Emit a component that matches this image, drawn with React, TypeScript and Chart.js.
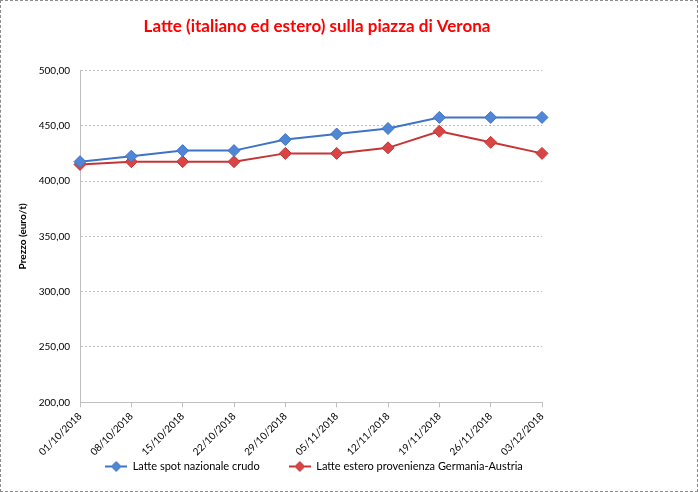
import React, { useEffect, useRef } from "react";
import { Chart, registerables } from "chart.js";

Chart.register(...registerables);

const categories = [
  "01/10/2018", "08/10/2018", "15/10/2018", "22/10/2018", "29/10/2018",
  "05/11/2018", "12/11/2018", "19/11/2018", "26/11/2018", "03/12/2018",
];
const spotNazionale = [417.5, 422.5, 427.5, 427.5, 437.5, 442.5, 447.5, 457.5, 457.5, 457.5];
const esteroGermaniaAustria = [415, 417.5, 417.5, 417.5, 425, 425, 430, 445, 435, 425];
const seriesNames = ["Latte spot nazionale crudo", "Latte estero provenienza Germania-Austria"];
const titleText = "Latte (italiano ed estero) sulla piazza di Verona";
const yTitle = "Prezzo (euro/t)";

const FONT = "Lato, 'Liberation Sans', sans-serif";

function makeLegendIcon(fill: string, stroke: string): HTMLCanvasElement {
  const c = document.createElement("canvas");
  c.width = 22;
  c.height = 12;
  const ctx = c.getContext("2d")!;
  ctx.strokeStyle = stroke;
  ctx.lineWidth = 2;
  ctx.beginPath();
  ctx.moveTo(0, 6);
  ctx.lineTo(22, 6);
  ctx.stroke();
  ctx.beginPath();
  ctx.moveTo(11, 1);
  ctx.lineTo(16, 6);
  ctx.lineTo(11, 11);
  ctx.lineTo(6, 6);
  ctx.closePath();
  ctx.fillStyle = fill;
  ctx.fill();
  ctx.lineWidth = 1;
  ctx.stroke();
  return c;
}

const legendShift = {
  id: "legendShift",
  afterLayout(chart: any) {
    const lg = chart.legend;
    if (lg) {
      lg.top -= 29;
      lg.bottom -= 29;
      lg.left -= 3;
      lg.right -= 3;
    }
  },
};

export default function App() {
  const ref = useRef<HTMLCanvasElement | null>(null);

  useEffect(() => {
    document.body.style.margin = "0";
    if (!ref.current) return;
    const blueFill = "#4f86d6";
    const blueLine = "#3f73c4";
    const redFill = "#d94444";
    const redLine = "#c53535";
    const icons = [makeLegendIcon(blueFill, blueLine), makeLegendIcon(redFill, redLine)];

    const chart = new Chart(ref.current, {
      type: "line",
      data: {
        labels: categories,
        datasets: [
          {
            label: seriesNames[0],
            data: spotNazionale,
            borderColor: blueLine,
            backgroundColor: blueFill,
            pointBackgroundColor: blueFill,
            pointBorderColor: blueLine,
            pointStyle: "rectRot",
            pointRadius: 6,
            pointBorderWidth: 1,
            borderWidth: 2,
            tension: 0,
          },
          {
            label: seriesNames[1],
            data: esteroGermaniaAustria,
            borderColor: redLine,
            backgroundColor: redFill,
            pointBackgroundColor: redFill,
            pointBorderColor: redLine,
            pointStyle: "rectRot",
            pointRadius: 6,
            pointBorderWidth: 1,
            borderWidth: 2,
            tension: 0,
          },
        ],
      },
      plugins: [legendShift],
      options: {
        animation: false,
        responsive: false,
        layout: { padding: { left: 0, right: 64, top: 10, bottom: -20 } },
        plugins: {
          title: {
            display: true,
            text: titleText,
            color: "#ff0000",
            font: { family: FONT, size: 17, weight: "bold" },
            padding: { top: 5, bottom: 34 },
          },
          legend: {
            position: "bottom",
            labels: {
              usePointStyle: true,
              pointStyleWidth: 22,
              color: "#000",
              font: { family: FONT, size: 11 },
              padding: 29,
              generateLabels: (ch: any) => {
                const items = Chart.defaults.plugins.legend.labels.generateLabels(ch);
                items.forEach((it: any, i: number) => {
                  it.pointStyle = icons[i];
                });
                return items;
              },
            },
          },
          tooltip: { enabled: false },
        },
        scales: {
          x: {
            offset: false,
            grid: { display: true, drawOnChartArea: false, drawTicks: true, tickLength: 5, color: "#bfbfbf" },
            border: { color: "#bfbfbf", width: 1 },
            ticks: {
              minRotation: 45,
              maxRotation: 45,
              color: "#000",
              font: { family: FONT, size: 10 },
              padding: 3,
              autoSkip: false,
            },
            afterFit: (scale: any) => {
              scale.paddingRight = 155;
            },
          },
          y: {
            min: 200,
            max: 500,
            grid: { color: "#bfbfbf", drawTicks: false },
            border: { color: "#bfbfbf", dash: [2, 2] },
            ticks: {
              stepSize: 50,
              color: "#000",
              font: { family: FONT, size: 10 },
              padding: 10,
              callback: (v: any) => Number(v).toFixed(2).replace(".", ","),
            },
            title: {
              display: true,
              text: yTitle,
              color: "#000",
              font: { family: FONT, size: 10, weight: "bold" },
              padding: { top: 16, bottom: 10 },
            },
            afterFit: (scale: any) => {
              scale.width = 79;
            },
          },
        },
      },
    });
    return () => chart.destroy();
  }, []);

  return (
    <div
      style={{
        position: "absolute",
        left: 0,
        top: 0,
        width: 698,
        height: 492,
        boxSizing: "border-box",
        border: "1px dashed #8c8c8c",
        background: "#fff",
      }}
    >
      <canvas ref={ref} width={696} height={490} style={{ display: "block" }} />
    </div>
  );
}
